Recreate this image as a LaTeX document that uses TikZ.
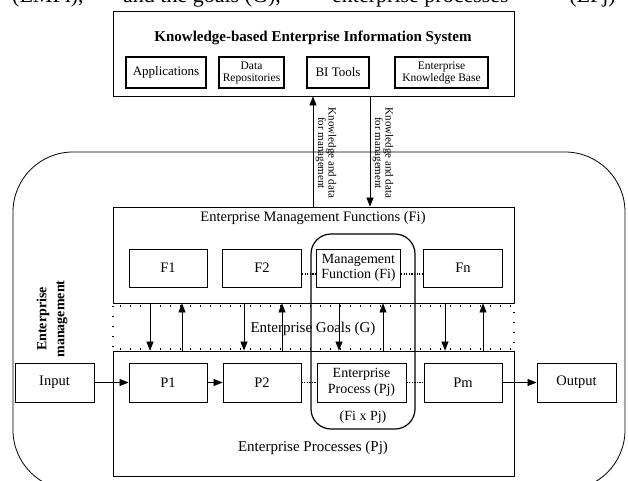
\documentclass[tikz,border=0pt]{standalone}
\usepackage{fontspec}
\setmainfont{Liberation Serif}
\usetikzlibrary{arrows.meta}
\tikzset{
  box/.style={draw, line width=0.8pt, inner sep=0pt, align=center},
  subbox/.style={draw, line width=1.2pt, inner sep=0pt, align=center},
  arr/.style={draw, line width=0.7pt, -{Triangle[length=9pt,width=7pt]}},
  dotconn/.style={draw, line width=1.3pt, dash pattern=on 1.3pt off 1.3pt},
  fs/.style={font=\fontsize{#1}{#1}\selectfont},
  fsl/.style 2 args={font=\fontsize{#1}{#2}\selectfont},
  frag/.style={anchor=base west, inner sep=0pt, font=\fontsize{22}{24}\selectfont},
}
\begin{document}
\begin{tikzpicture}[x=1pt,y=-1pt]
\useasboundingbox (0,0) rectangle (628,481);
% cut-off text line from the page above
\node[frag] (frag1) at (12,3) {(EMFi),};
\node[frag] (frag2) at (123,3) {and the goals (G),};
\node[frag] (frag3) at (332,3) {enterprise processes};
\node[frag, anchor=base east] (frag4) at (616,3) {(EPj)};

% Knowledge-based EIS
\node[box, minimum width=401, minimum height=85] (kbeis) at (313.5,53.5) {};
\node[inner sep=0pt, font=\fontsize{15}{16}\selectfont\bfseries] (kbtitle) at (313,38) {Knowledge-based Enterprise Information System};
\node[subbox, minimum width=80, minimum height=31, fs=13] (apps) at (166,72.5) {Applications};
\node[subbox, minimum width=65, minimum height=31, fsl={11.5}{12}] (datarep) at (251.5,72.5) {Data\\Repositories};
\node[subbox, minimum width=62, minimum height=31, fs=13] (bitools) at (338,72.5) {BI Tools};
\node[subbox, minimum width=93, minimum height=31, fsl={11.5}{12}] (ekb) at (441.5,72.5) {Enterprise\\Knowledge Base};

% outer enterprise management rounded box
\draw[line width=0.8pt, rounded corners=60pt] (13,152) rectangle (625,490);
\node[rotate=90, inner sep=0pt, align=center, font=\fontsize{14}{18}\selectfont\bfseries] (emlabel) at (52,319) {Enterprise\\management};

% EMF box
\node[box, minimum width=401, minimum height=96] (emf) at (313.5,255) {};
\node[inner sep=0pt, fs=14.5] (emftitle) at (313,218) {Enterprise Management Functions (Fi)};
\node[box, minimum width=78, minimum height=38, fs=14.5] (f1) at (168,268) {F1};
\node[box, minimum width=79, minimum height=38, fs=14.5] (f2) at (262,268) {F2};
\node[box, minimum width=84, minimum height=38, fsl={14}{15}] (mf) at (358.5,268) {Management\\Function (Fi)};
\node[box, minimum width=79, minimum height=38, fs=14.5] (fn) at (463,268) {Fn};
\draw[dotconn] ([yshift=-6pt]f2.east) -- ([yshift=-6pt]mf.west);
\draw[dotconn] ([yshift=-6pt]mf.east) -- ([yshift=-6pt]fn.west);

% EP box
\node[box, minimum width=401, minimum height=125] (ep) at (313.5,413.5) {};
\node[inner sep=0pt, fs=15] (eptitle) at (313,448) {Enterprise Processes (Pj)};
\node[box, minimum width=78, minimum height=39, fs=14.5] (p1) at (168,382.5) {P1};
\node[box, minimum width=78, minimum height=39, fs=14.5] (p2) at (262,382.5) {P2};
\node[box, minimum width=89, minimum height=39, fsl={14}{16}] (epj) at (361.5,382.5) {Enterprise\\Process (Pj)};
\node[box, minimum width=78, minimum height=39, fs=14.5] (pm) at (463,382.5) {Pm};
\node[box, minimum width=79, minimum height=39, fs=14.5] (input) at (54.5,382.5) {Input};
\node[box, minimum width=79, minimum height=39, fs=14.5] (output) at (576.5,382.5) {Output};
\draw[arr] (input) -- (p1);
\draw[arr] (p1) -- (p2);
\draw[arr] (pm) -- (output);
\draw[dotconn] (p2) -- (epj);
\draw[dotconn] (epj) -- (pm);

% goals band
\draw[line width=2.6pt, dash pattern=on 1pt off 9pt] (113,306) rectangle (514,349);
\node[inner sep=0pt, fs=15] (goals) at (313,329) {Enterprise Goals (G)};
\foreach \x [count=\i] in {150,244,339,445} {
  \coordinate (dn\i) at (\x,0);
  \draw[arr] (emf.south -| dn\i) -- (ep.north -| dn\i);
}
\foreach \x [count=\i] in {182,282,383,483} {
  \coordinate (up\i) at (\x,0);
  \draw[arr] (ep.north -| up\i) -- (emf.south -| up\i);
}

% Fi x Pj rounded box
\draw[line width=1.2pt, rounded corners=20pt] (311,234) rectangle (415,429);
\node[inner sep=0pt, fs=14] (fixpj) at (363,417) {(Fi x Pj)};

% knowledge arrows
\coordinate (kup) at (313,0);
\coordinate (kdn) at (370,0);
\draw[arr] (emf.north -| kup) -- (kbeis.south -| kup);
\draw[arr] (kbeis.south -| kdn) -- (emf.north -| kdn);
\node[rotate=-90, inner sep=0pt, align=center, font=\fontsize{11}{10.5}\selectfont] (klab1) at (326,153) {Knowledge and data\\for management};
\node[rotate=-90, inner sep=0pt, align=center, font=\fontsize{11}{10.5}\selectfont] (klab2) at (383,153) {Knowledge and data\\for management};
\end{tikzpicture}
\end{document}
